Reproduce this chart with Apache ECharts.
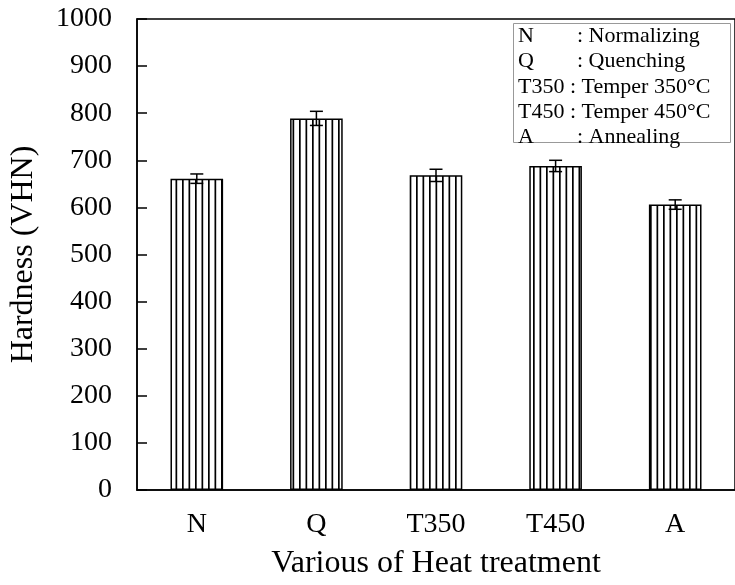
<!DOCTYPE html>
<html>
<head>
<meta charset="utf-8">
<script src="https://cdn.jsdelivr.net/npm/echarts@6/dist/echarts.min.js"></script>
<style>
html,body{margin:0;padding:0;background:#fff;}
#chart{width:735px;height:585px;}
</style>
</head>
<body>
<div id="chart"></div>
<script>
// ---- data ----
var categories = ['N', 'Q', 'T350', 'T450', 'A'];
var hardness = [661, 789, 668, 688, 606];
var errors = [10, 15, 13, 12, 10];
var yTicks = [0, 100, 200, 300, 400, 500, 600, 700, 800, 900, 1000];
var legendKeys = ['N', 'Q', 'T350', 'T450', 'A'];
var legendDescs = [': Normalizing', ': Quenching', ': Temper 350°C', ': Temper 450°C', ': Annealing'];
var xTitle = 'Various of Heat treatment';
var yTitle = 'Hardness (VHN)';

// ---- styling ----
var FONT = '"Liberation Serif", "Times New Roman", serif';

// vertical stripe pattern
var pc = document.createElement('canvas');
pc.width = 13; pc.height = 8;
var pctx = pc.getContext('2d');
pctx.fillStyle = '#fff';
pctx.fillRect(0, 0, 13, 8);
pctx.fillStyle = '#000';
pctx.fillRect(0, 0, 1.7, 8);
pctx.fillRect(6.5, 0, 1.7, 8);

var errData = hardness.map(function (v, i) { return [i, v - errors[i], v + errors[i]]; });

// legend texts
var mc = document.createElement('canvas').getContext('2d');
var LFS = 22;
var LFONT = LFS + 'px ' + FONT;
mc.font = LFONT;
var graphics = [{
  type: 'rect', left: 513, top: 23, z: 10,
  shape: { width: 217, height: 119 },
  style: { fill: '#fff', stroke: '#999', lineWidth: 1 }
}];
legendKeys.forEach(function (k, i) {
  var y = 36 + i * 25.4;
  var kx = 518;
  var kw = mc.measureText(k + ' ').width;
  var dx = (kx + kw > 560) ? kx + kw : 577;
  graphics.push({ type: 'text', x: kx, y: y, z: 11,
    style: { text: k, font: LFONT, fill: '#000', verticalAlign: 'middle' } });
  graphics.push({ type: 'text', x: dx, y: y, z: 11,
    style: { text: legendDescs[i], font: LFONT, fill: '#000', verticalAlign: 'middle' } });
});

var chart = echarts.init(document.getElementById('chart'), null, { renderer: 'canvas' });
chart.setOption({
  animation: false,
  backgroundColor: '#fff',
  grid: { left: 135, top: 19, width: 610, height: 475, show: true, borderColor: '#000', borderWidth: 1.5, containLabel: false },
  xAxis: {
    type: 'category', data: categories,
    axisLine: { lineStyle: { color: '#000', width: 1.5 } },
    axisTick: { inside: true, length: 10, lineStyle: { color: '#000', width: 1.5 } },
    axisLabel: { color: '#000', fontFamily: FONT, fontSize: 28, margin: 21 },
    name: xTitle, nameLocation: 'middle', nameGap: 58,
    nameTextStyle: { color: '#000', fontFamily: FONT, fontSize: 32 }
  },
  yAxis: {
    type: 'value', min: 0, max: 1000, interval: 100,
    axisLine: { show: true, lineStyle: { color: '#000', width: 1.5 } },
    axisTick: { show: true, inside: true, length: 10, lineStyle: { color: '#000', width: 1.5 } },
    splitLine: { show: false },
    axisLabel: { color: '#000', fontFamily: FONT, fontSize: 28, margin: 25,
      formatter: function (v) { return yTicks.indexOf(v) >= 0 ? String(v) : ''; } },
    name: yTitle, nameLocation: 'middle', nameGap: 97,
    nameTextStyle: { color: '#000', fontFamily: FONT, fontSize: 32 }
  },
  series: [{
    type: 'bar', data: hardness, barWidth: '44%',
    itemStyle: { color: { image: pc, repeat: 'repeat' }, borderColor: '#000', borderWidth: 1.5 }
  }, {
    type: 'custom', data: errData, z: 5,
    renderItem: function (params, api) {
      var x = api.value(0);
      var lo = api.coord([x, api.value(1)]);
      var hi = api.coord([x, api.value(2)]);
      var hw = 6.5;
      var st = { stroke: '#000', lineWidth: 1.5 };
      return { type: 'group', children: [
        { type: 'line', shape: { x1: lo[0], y1: lo[1], x2: hi[0], y2: hi[1] }, style: st },
        { type: 'line', shape: { x1: hi[0] - hw, y1: hi[1], x2: hi[0] + hw, y2: hi[1] }, style: st },
        { type: 'line', shape: { x1: lo[0] - hw, y1: lo[1], x2: lo[0] + hw, y2: lo[1] }, style: st }
      ] };
    }
  }],
  graphic: graphics
});
</script>
</body>
</html>
